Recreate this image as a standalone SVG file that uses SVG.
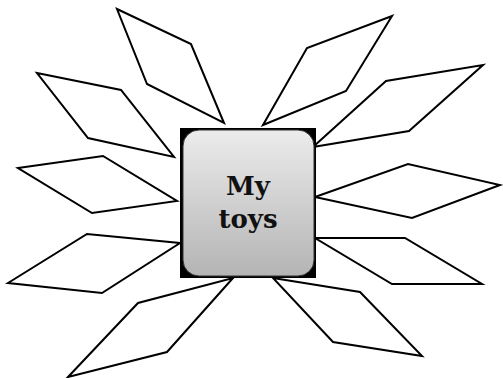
<svg xmlns="http://www.w3.org/2000/svg" width="503" height="378" viewBox="0 0 503 378">
<style>
.p{fill:#fff;stroke:#000;stroke-width:2;stroke-linejoin:miter}
.t{font-family:"DejaVu Serif","Liberation Serif",serif;font-weight:bold;font-size:26px;fill:#111;text-anchor:middle}
</style>
<defs>
<linearGradient id="g" x1="0" y1="0" x2="0" y2="1">
<stop offset="0" stop-color="#ececec"/>
<stop offset="1" stop-color="#b4b4b4"/>
</linearGradient>
</defs>
<rect width="503" height="378" fill="#fff"/>
<g id="connectors"/>
<g id="toy1"><polygon class="p" points="117,9 191,44 224,123 147,84"/></g>
<g id="toy2"><polygon class="p" points="37,73 121,90 174,157 88,138"/></g>
<g id="toy3"><polygon class="p" points="18,168 103,156 177,201 92,213"/></g>
<g id="toy4"><polygon class="p" points="8,283 87,234 180,243 102,293"/></g>
<g id="toy5"><polygon class="p" points="68,377 138,303 233,278 167,352"/></g>
<g id="toy6"><polygon class="p" points="263,125 346,91 392,16 307,48"/></g>
<g id="toy7"><polygon class="p" points="313,147 409,131 483,65 386,81"/></g>
<g id="toy8"><polygon class="p" points="315,197 408,164 500,185 412,218"/></g>
<g id="toy9"><polygon class="p" points="315,238 405,238 482,284 392,284"/></g>
<g id="toy10"><polygon class="p" points="273,278 360,292 422,356 333,342"/></g>
<g id="center">
<rect x="180" y="128" width="136" height="150" fill="#000"/>
<rect x="183" y="130" width="131" height="146" rx="16" fill="url(#g)" stroke="#333" stroke-width="1"/>
<text class="t" x="248" y="195">My</text>
<text class="t" x="248" y="228">toys</text>
</g>
</svg>
